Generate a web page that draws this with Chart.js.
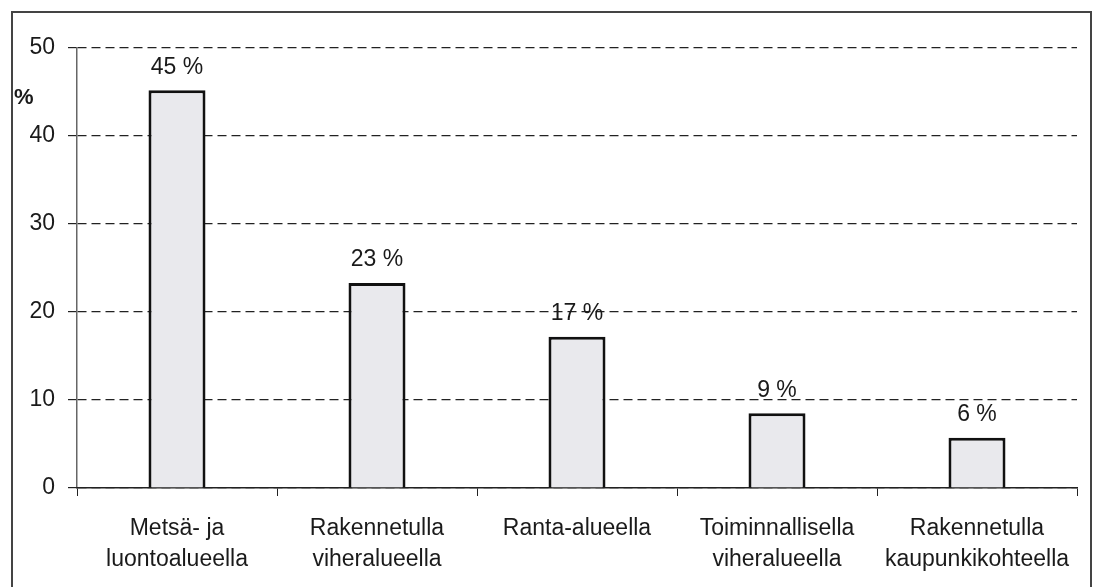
<!DOCTYPE html>
<html>
<head>
<meta charset="utf-8">
<script src="https://cdn.jsdelivr.net/npm/chart.js@4"></script>
<style>
    html, body { margin: 0; padding: 0; background: #fff; }
    #wrap { position: relative; width: 1099px; height: 587px; }
</style>
</head>
<body>
<div id="wrap"><canvas id="chart" width="1099" height="587"></canvas></div>
<script>
// Chart data
const categories = [
    ['Metsä- ja', 'luontoalueella'],
    ['Rakennetulla', 'viheralueella'],
    ['Ranta-alueella'],
    ['Toiminnallisella', 'viheralueella'],
    ['Rakennetulla', 'kaupunkikohteella']
];
const shares = [45.2, 23.3, 17.2, 8.5, 5.7];
const valueLabels = ['45 %', '23 %', '17 %', '9 %', '6 %'];
const yTicks = [0, 10, 20, 30, 40, 50];
const yUnit = '%';

const FONT = '"Liberation Sans", Arial, sans-serif';

// Outer frame, unit label and bar value labels
const extras = {
    id: 'extras',
    beforeDraw(chart) {
        const ctx = chart.ctx;
        ctx.save();
        ctx.strokeStyle = '#444';
        ctx.lineWidth = 2;
        ctx.strokeRect(12, 12, 1079, 600);
        ctx.restore();
    },
    afterDatasetsDraw(chart) {
        const ctx = chart.ctx;
        ctx.save();
        ctx.fillStyle = '#1a1a1a';
        ctx.font = '23px ' + FONT;
        ctx.textAlign = 'center';
        ctx.textBaseline = 'middle';
        chart.getDatasetMeta(0).data.forEach((bar, i) => {
            ctx.fillText(valueLabels[i], bar.x, bar.y - 23);
        });
        ctx.font = 'bold 22px ' + FONT;
        ctx.textAlign = 'left';
        ctx.fillText(yUnit, 14, 98);
        ctx.restore();
    }
};

new Chart(document.getElementById('chart'), {
    type: 'bar',
    data: {
        labels: categories,
        datasets: [{
            data: shares,
            backgroundColor: '#e9e9ed',
            borderColor: '#111',
            borderWidth: 3,
            borderSkipped: 'bottom',
            barPercentage: 0.285,
            categoryPercentage: 1
        }]
    },
    options: {
        responsive: false,
        animation: false,
        layout: { padding: { top: 48, right: 22, bottom: 0, left: 0 } },
        plugins: {
            legend: { display: false },
            tooltip: { enabled: false }
        },
        scales: {
            y: {
                min: 0,
                max: 50,
                afterFit(scale) { scale.width = 77; },
                afterBuildTicks(scale) { scale.ticks = yTicks.map(v => ({ value: v })); },
                ticks: {
                    padding: 13,
                    color: '#1a1a1a',
                    font: { family: FONT, size: 23 }
                },
                grid: {
                    color: '#222',
                    lineWidth: 1.2,
                    tickLength: 9
                },
                border: { color: '#666', width: 1.5, dash: [9, 5] }
            },
            x: {
                afterFit(scale) { scale.height = 99; },
                ticks: {
                    padding: 17,
                    color: '#1a1a1a',
                    maxRotation: 0,
                    autoSkip: false,
                    font: { family: FONT, size: 23, lineHeight: 1.35 }
                },
                grid: {
                    offset: true,
                    drawOnChartArea: false,
                    drawTicks: true,
                    tickLength: 8,
                    color: '#222'
                },
                border: { color: '#222', width: 1.5 }
            }
        }
    },
    plugins: [extras]
});
</script>
</body>
</html>
